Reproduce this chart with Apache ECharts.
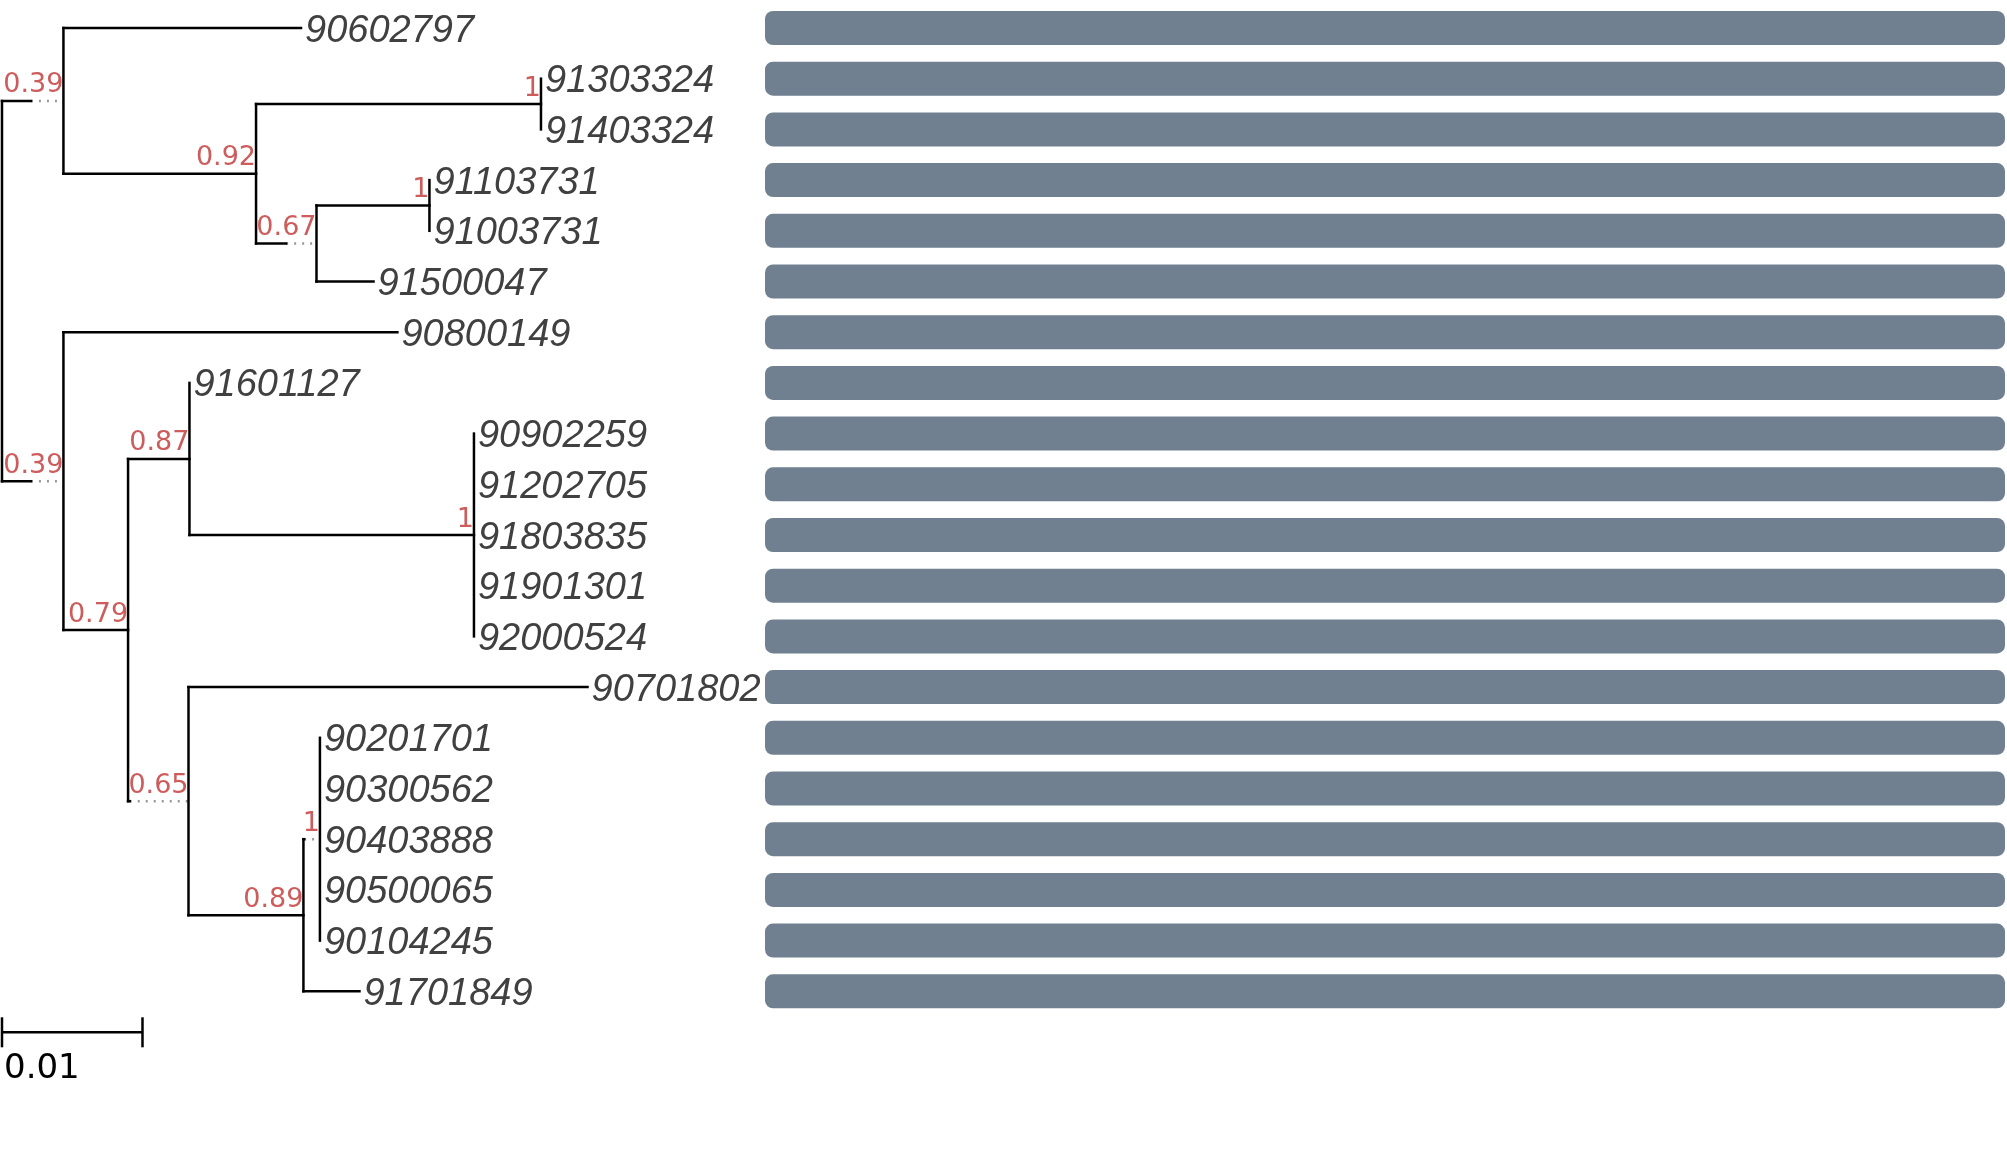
<!DOCTYPE html>
<html><head><meta charset="utf-8">
<script src="https://cdn.jsdelivr.net/npm/echarts@6/dist/echarts.min.js"></script>
<style>html,body{margin:0;padding:0;background:#fff}#c{width:2007px;height:1158px}</style>
</head><body><div id="c"></div>
<script>
// ---------------- data ----------------
// tree topology, branch lengths (substitutions/site) and support values (internal node names)
const treeNewick = "((90602797:0.01691,((91303324:0,91403324:0)1:0.02028,((91103731:0,91003731:0)1:0.00804,91500047:0.00406)0.67:0.00214)0.92:0.01371)0.39:0.00206,(90800149:0.02377,((91601127:0,(90902259:0,91202705:0,91803835:0,91901301:0,92000524:0)1:0.02025)0.87:0.00437,(90701802:0.0284,((90201701:0,90300562:0,90403888:0,90500065:0,90104245:0)1:0.00005,91701849:0.00399)0.89:0.00818)0.65:0.00012)0.79:0.0046)0.39:0.00206);";
const barValues = [100,100,100,100,100,100,100,100,100,100,100,100,100,100,100,100,100,100,100,100];
const scaleBarLength = 0.01;
const scaleBarLabel = "0.01";

// ---------------- layout / style ----------------
const W = 2007, H = 1158;
const rowTop = 28, rowPitch = 50.7;
const xMin = -0.000142, xMax = 0.14271;
const pxPerUnit = W / (xMax - xMin);
const supportFont = '27px "DejaVu Sans"';
const leafFont = 'italic 38px "Liberation Sans"';
const faceMargin = 3.5;

function parseNewick(s) {
  let i = 0;
  function node() {
    const n = {children: [], name: '', len: 0};
    if (s[i] === '(') {
      i++;
      n.children.push(node());
      while (s[i] === ',') { i++; n.children.push(node()); }
      i++;
    }
    let name = '';
    while (i < s.length && !',():;'.includes(s[i])) name += s[i++];
    n.name = name;
    if (s[i] === ':') {
      i++;
      let l = '';
      while (i < s.length && !',();'.includes(s[i])) l += s[i++];
      n.len = parseFloat(l);
    }
    return n;
  }
  return node();
}

const ctx = document.createElement('canvas').getContext('2d');
function inkW(t, f) {
  ctx.font = f;
  const m = ctx.measureText(t);
  if (m.actualBoundingBoxRight !== undefined) return m.actualBoundingBoxRight + m.actualBoundingBoxLeft;
  return m.width;
}

const root = parseNewick(treeNewick);
const leaves = [];
(function assignRows(n) {
  if (!n.children.length) { n.y = leaves.length; leaves.push(n); return; }
  n.children.forEach(assignRows);
  n.y = (n.children[0].y + n.children[n.children.length - 1].y) / 2;
})(root);

const solidSegs = [], dottedSegs = [], supports = [], supportText = [];
root.x = 0;
(function place(n) {
  if (n.children.length) {
    solidSegs.push([n.x, n.children[0].y, n.x, n.children[n.children.length - 1].y]);
  }
  n.children.forEach(c => {
    let ext = 0;
    if (c.children.length && c.name) {
      const w = (inkW(c.name, supportFont) + faceMargin) / pxPerUnit;
      ext = Math.max(0, w - c.len);
    }
    c.x = n.x + c.len + ext;
    if (c.len > 0) solidSegs.push([n.x, c.y, n.x + c.len, c.y]);
    if (ext > 0) dottedSegs.push([n.x + c.len, c.y, c.x, c.y]);
    if (c.children.length && c.name) { supports.push([c.x, c.y]); supportText.push(c.name); }
    place(c);
  });
})(root);

const leafData = leaves.map(l => [l.x, l.y]);
const leafNames = leaves.map(l => l.name);

function segRender(color, width, dash) {
  return function (params, api) {
    const a = api.coord([api.value(0), api.value(1)]);
    const b = api.coord([api.value(2), api.value(3)]);
    return {type: 'line', shape: {x1: a[0], y1: a[1], x2: b[0], y2: b[1]},
      style: {stroke: color, lineWidth: width, lineDash: dash || null, lineCap: dash ? 'butt' : 'square'}};
  };
}

const chart = echarts.init(document.getElementById('c'), null, {renderer: 'canvas'});
chart.setOption({
  animation: false,
  backgroundColor: '#fff',
  grid: [
    {left: 0, top: 0, width: W, height: H},
    {left: 765, width: 1240, top: rowTop - rowPitch / 2, height: rowPitch * leaves.length}
  ],
  xAxis: [
    {type: 'value', gridIndex: 0, min: xMin, max: xMax, show: false},
    {type: 'value', gridIndex: 1, min: 0, max: 100, show: false}
  ],
  yAxis: [
    {type: 'value', gridIndex: 0, inverse: true, min: -rowTop / rowPitch, max: (H - rowTop) / rowPitch, show: false},
    {type: 'category', gridIndex: 1, inverse: true, data: leafNames, show: false}
  ],
  series: [
    {type: 'bar', xAxisIndex: 1, yAxisIndex: 1, data: barValues, barWidth: 34,
      itemStyle: {color: '#708090', borderRadius: 8}, silent: true},
    {type: 'custom', xAxisIndex: 0, yAxisIndex: 0, data: dottedSegs, encode: {x: [0, 2], y: [1, 3]},
      renderItem: segRender('#999999', 2.5, [2, 6]), silent: true, clip: false},
    {type: 'custom', xAxisIndex: 0, yAxisIndex: 0, data: solidSegs, encode: {x: [0, 2], y: [1, 3]},
      renderItem: segRender('#000000', 2.5), silent: true, clip: false},
    {type: 'custom', xAxisIndex: 0, yAxisIndex: 0, data: supports, encode: {x: 0, y: 1}, silent: true, clip: false,
      renderItem: function (params, api) {
        const p = api.coord([api.value(0), api.value(1)]);
        return {type: 'text', x: p[0], y: p[1] - 2,
          style: {text: supportText[params.dataIndex], font: supportFont, fill: '#cd5c5c', align: 'right', verticalAlign: 'bottom'}};
      }},
    {type: 'custom', xAxisIndex: 0, yAxisIndex: 0, data: leafData, encode: {x: 0, y: 1}, silent: true, clip: false,
      renderItem: function (params, api) {
        const p = api.coord([api.value(0), api.value(1)]);
        return {type: 'text', x: p[0] + 4, y: p[1] + 3,
          style: {text: leafNames[params.dataIndex], font: leafFont, fill: '#404040', align: 'left', verticalAlign: 'middle'}};
      }},
    {type: 'custom', xAxisIndex: 0, yAxisIndex: 0, data: [[0, leaves.length - 1, scaleBarLength]], encode: {x: [0, 2], y: 1},
      silent: true, clip: false,
      renderItem: function (params, api) {
        const a = api.coord([api.value(0), api.value(1)]);
        const b = api.coord([api.value(2), api.value(1)]);
        const y = a[1] + 41;
        const st = {stroke: '#000', lineWidth: 2.5};
        return {type: 'group', children: [
          {type: 'line', shape: {x1: a[0], y1: y, x2: b[0], y2: y}, style: st},
          {type: 'line', shape: {x1: a[0], y1: y - 15, x2: a[0], y2: y + 15}, style: st},
          {type: 'line', shape: {x1: b[0], y1: y - 15, x2: b[0], y2: y + 15}, style: st},
          {type: 'text', x: a[0] + 2, y: y + 37, style: {text: scaleBarLabel, font: '34px "DejaVu Sans"', fill: '#000', align: 'left', verticalAlign: 'middle'}}
        ]};
      }}
  ]
});
</script></body></html>
